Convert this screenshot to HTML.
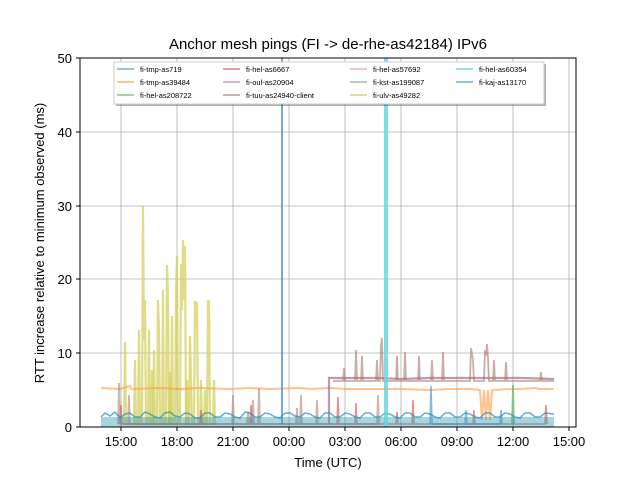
<!DOCTYPE html>
<html><head><style>
body{margin:0;background:#fff;}
svg{display:block;font-family:"Liberation Sans","DejaVu Sans",sans-serif;}
</style></head><body>
<svg width="640" height="480" viewBox="0 0 640 480" xmlns="http://www.w3.org/2000/svg">
<rect width="640" height="480" fill="#fff"/>
<g stroke="#b0b0b0" stroke-width="0.8">
<line x1="121" y1="58" x2="121" y2="427"/><line x1="177" y1="58" x2="177" y2="427"/>
<line x1="233" y1="58" x2="233" y2="427"/><line x1="289" y1="58" x2="289" y2="427"/>
<line x1="345" y1="58" x2="345" y2="427"/><line x1="401" y1="58" x2="401" y2="427"/>
<line x1="457" y1="58" x2="457" y2="427"/><line x1="513" y1="58" x2="513" y2="427"/>
<line x1="569" y1="58" x2="569" y2="427"/>
<line x1="80" y1="353" x2="576" y2="353"/><line x1="80" y1="279" x2="576" y2="279"/>
<line x1="80" y1="206" x2="576" y2="206"/><line x1="80" y1="132" x2="576" y2="132"/>
</g>
<g stroke="#d4d060" stroke-opacity="0.75" stroke-width="2.2" fill="none">
<polyline points="124,424 125,342 126,424 138,424 139,330 140,424 142,424 143,206 144,340 145,300 146,424 148,424 149,330 150,424 153,424 154,350 155,424 157,424 158,300 159,330 160,424 162,424 163,290 164,424 166,424 167,265 168,300 169,424 171,424 172,316 173,424 175,424 176,290 177,256 178,424 180,424 181,264 182,310 183,240 184,300 185,246 186,424 189,424 190,336 191,380 192,424 194,424 195,302 196,302 197,304 198,424 200,424 201,380 202,424 207,424 208,300 209,302 210,424 213,424 214,380 215,424"/>
<polyline points="134,424 135,360 136,424 151,424 152,370 153,424 169,424 170,372 171,424 186,424 187,380 188,424 204,424 205,390 206,424"/>
</g>
<polyline fill="none" stroke="#ff9a40" stroke-opacity="0.6" stroke-width="2" points="101,388 120,389 130,386 131,389 160,388 180,389 200,388 230,389 250,388 270,389 300,388 310,389 330,388 345,389 370,389 400,389 430,390 450,389 470,389 480,390 482,420 484,390 486,420 488,390 490,420 492,390 510,389 520,389 535,388 540,389 554,389"/>
<polyline fill="none" stroke="#9e6f8a" stroke-opacity="0.7" stroke-width="2.2" points="329,424 329,378 360,378 380,378 400,379 430,378 460,378 490,378 520,378 554,379"/>
<polyline fill="none" stroke="#a6786a" stroke-opacity="0.6" stroke-width="1.8" points="333,381 343,381 344,368 345,381 355,381 356,350 357,381 361,381 362,356 363,381 376,381 377,360 378,381 380,381 381,345 382,338 383,381 396,381 397,356 398,381 404,381 405,352 406,381 418,381 419,356 420,381 431,381 432,360 433,381 442,381 443,352 444,381 470,381 471,348 472,354 473,360 474,381 484,381 485,350 486,356 487,344 488,358 489,381 493,381 494,360 495,381 505,381 506,362 507,381 540,381 541,372 542,381 554,381"/>
<g stroke="#a6786a" stroke-opacity="0.55" stroke-width="1.8" fill="none">
<polyline points="118,424 119,383 120,424 128,424 129,395 130,424 232,424 233,395 234,424 247,424 248,412 249,424 252,424 253,400 254,424 258,424 259,388 260,424 296,424 297,408 298,424 300,424 301,395 302,424 316,424 317,400 318,424 377,424 378,395 379,424"/>
</g>
<g stroke="#e06060" stroke-opacity="0.7" stroke-width="1.6" fill="none">
<polyline points="120,424 121,405 122,424 200,424 201,410 202,424 250,424 251,405 252,424 337,424 338,397 339,424 355,424 356,403 357,424 396,424 397,412 398,424 412,424 413,400 414,424 473,424 474,410 475,424 545,424 546,405 547,424"/>
</g>
<polyline fill="none" stroke="#5cb85c" stroke-opacity="0.7" stroke-width="1.8" points="512,424 513,385 514,424"/>
<g stroke="#3a86c8" stroke-opacity="0.6" stroke-width="1.6" fill="none">
<polyline points="430,424 431,386 432,424 465,424 466,410 467,424 500,424 501,410 502,424"/>
</g>
<rect x="101" y="417" width="453" height="10" fill="#3aa0b8" fill-opacity="0.45"/>
<polyline fill="none" stroke="#2a8cb0" stroke-opacity="0.7" stroke-width="1.5" points="101,417 105,413 110,416 115,412 120,418 125,414 130,413 135,417 140,417 145,412 150,414 155,417 160,418 165,413 170,412 175,416 180,417 185,413 190,414 195,418 200,418 205,413 210,413 215,417 220,417 225,413 230,414 235,417 240,418 245,412 250,413 255,417 260,417 265,413 270,414 275,417 280,418 285,413 290,413 295,416 300,417 305,413 310,414 315,417 320,418 325,413 330,413 335,417 340,417 345,413 350,414 355,417 360,418 365,413 370,413 375,417 380,417 385,413 390,414 395,417 400,418 405,413 410,413 415,417 420,417 425,413 430,414 435,417 440,418 445,413 450,413 455,417 460,417 465,413 470,414 475,417 480,418 485,413 490,413 495,417 500,417 505,413 510,414 515,417 520,418 525,413 530,413 535,417 540,417 545,413 554,414"/>
<line x1="282" y1="424" x2="282" y2="58" stroke="#3a86c8" stroke-opacity="0.7" stroke-width="2"/>
<rect x="384" y="58" width="4" height="369" fill="#5fd5e0" fill-opacity="0.8"/>
<rect x="116" y="64" width="430" height="42" fill="#000" fill-opacity="0.3"/>
<rect x="114" y="62" width="430" height="42" fill="#fff" stroke="#ccc" stroke-width="1"/>
<g font-size="7.5" fill="#000">
<g stroke-width="1.6" stroke-opacity="0.6">
<line x1="117" y1="69" x2="134" y2="69" stroke="#1f77b4"/><line x1="117" y1="82" x2="134" y2="82" stroke="#ff7f0e"/><line x1="117" y1="95" x2="134" y2="95" stroke="#2ca02c"/>
<line x1="223" y1="69" x2="240" y2="69" stroke="#d62728"/><line x1="223" y1="82" x2="240" y2="82" stroke="#9467bd"/><line x1="223" y1="95" x2="240" y2="95" stroke="#8c564b"/>
<line x1="350" y1="69" x2="367" y2="69" stroke="#e377c2"/><line x1="350" y1="82" x2="367" y2="82" stroke="#7f7f7f"/><line x1="350" y1="95" x2="367" y2="95" stroke="#bcbd22"/>
<line x1="456" y1="69" x2="473" y2="69" stroke="#17becf"/><line x1="456" y1="82" x2="473" y2="82" stroke="#1f77b4"/>
</g>
<text x="140" y="72">fi-tmp-as719</text><text x="140" y="85">fi-tmp-as39484</text><text x="140" y="98">fi-hel-as208722</text>
<text x="246" y="72">fi-hel-as6667</text><text x="246" y="85">fi-oul-as20904</text><text x="246" y="98">fi-tuu-as24940-client</text>
<text x="373" y="72">fi-hel-as57692</text><text x="373" y="85">fi-kst-as199087</text><text x="373" y="98">fi-ulv-as49282</text>
<text x="479" y="72">fi-hel-as60354</text><text x="479" y="85">fi-kaj-as13170</text>
</g>
<rect x="80" y="58" width="496" height="369" fill="none" stroke="#000" stroke-width="1"/>
<g stroke="#000" stroke-width="1">
<line x1="121" y1="427" x2="121" y2="431"/><line x1="177" y1="427" x2="177" y2="431"/><line x1="233" y1="427" x2="233" y2="431"/><line x1="289" y1="427" x2="289" y2="431"/><line x1="345" y1="427" x2="345" y2="431"/><line x1="401" y1="427" x2="401" y2="431"/><line x1="457" y1="427" x2="457" y2="431"/><line x1="513" y1="427" x2="513" y2="431"/><line x1="569" y1="427" x2="569" y2="431"/>
<line x1="76" y1="427" x2="80" y2="427"/><line x1="76" y1="353" x2="80" y2="353"/><line x1="76" y1="279" x2="80" y2="279"/><line x1="76" y1="206" x2="80" y2="206"/><line x1="76" y1="132" x2="80" y2="132"/><line x1="76" y1="58" x2="80" y2="58"/>
</g>
<g font-size="13" fill="#000" text-anchor="middle">
<text x="121" y="446">15:00</text><text x="177" y="446">18:00</text><text x="233" y="446">21:00</text><text x="289" y="446">00:00</text><text x="345" y="446">03:00</text><text x="401" y="446">06:00</text><text x="457" y="446">09:00</text><text x="513" y="446">12:00</text><text x="569" y="446">15:00</text>
<text x="328" y="467">Time (UTC)</text>
<text x="328" y="49" font-size="15">Anchor mesh pings (FI -&gt; de-rhe-as42184) IPv6</text>
</g>
<g font-size="13" fill="#000" text-anchor="end">
<text x="72" y="432">0</text><text x="72" y="358">10</text><text x="72" y="284">20</text><text x="72" y="211">30</text><text x="72" y="137">40</text><text x="72" y="63">50</text>
</g>
<text transform="translate(44,243) rotate(-90)" font-size="13" text-anchor="middle">RTT increase relative to minimum observed (ms)</text>
</svg>
</body></html>
